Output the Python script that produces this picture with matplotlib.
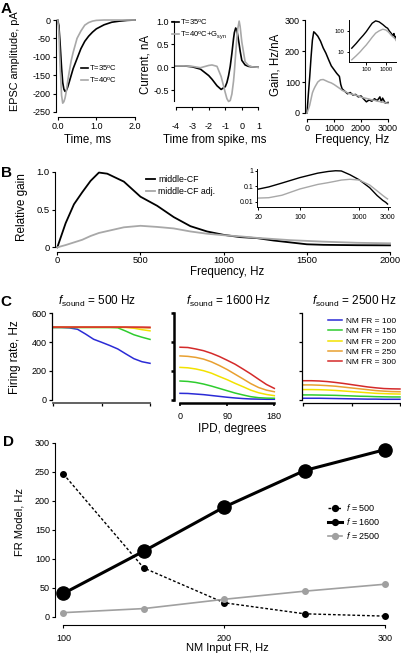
import matplotlib
matplotlib.use('Agg')
import matplotlib.pyplot as plt
from matplotlib.ticker import NullLocator

plt.rcParams['font.family'] = ['Liberation Sans', 'DejaVu Sans']
plt.rcParams['mathtext.fontset'] = 'custom'
plt.rcParams['mathtext.rm'] = 'Liberation Sans'
plt.rcParams['mathtext.it'] = 'Liberation Sans:italic'
plt.rcParams['axes.unicode_minus'] = False

# ---------------- data ----------------
# A1: EPSC waveforms
epsc_t = [0, 0.03, 0.06, 0.1, 0.13, 0.16, 0.19, 0.22, 0.26, 0.3, 0.35, 0.4, 0.5,
          0.6, 0.7, 0.8, 0.9, 1.0, 1.2, 1.4, 1.6, 1.8, 2.0]
epsc_35 = [0, -15, -60, -130, -170, -188, -194, -192, -182, -168, -150, -132, -105,
           -78, -58, -44, -33, -24, -13, -6, -3, -1, 0]
epsc_40 = [0, -30, -120, -205, -226, -222, -212, -195, -165, -140, -110, -88, -50,
           -30, -14, -7, -3, -1, 0, 0, 0, 0, 0]

# A2: spike-triggered current
spk_t = [-4, -3.5, -3, -2.5, -2, -1.8, -1.5, -1.25, -1.0, -0.9, -0.8, -0.7, -0.6,
         -0.5, -0.45, -0.37, -0.3, -0.25, -0.16, -0.1, 0, 0.2, 0.4, 0.6, 1.0]
cur_35 = [0.03, 0.03, 0.01, -0.04, -0.18, -0.26, -0.4, -0.48, -0.42, -0.33, -0.18,
          0.02, 0.3, 0.62, 0.75, 0.85, 0.8, 0.7, 0.5, 0.35, 0.15, 0.05, 0.02, 0.01, 0.0]
cur_40 = [0.03, 0.03, 0.02, -0.01, 0.04, 0.05, 0.02, -0.2, -0.55, -0.68, -0.74,
          -0.72, -0.58, -0.3, -0.1, 0.3, 0.62, 0.82, 1.0, 0.88, 0.55, 0.12, 0.04, 0.01, 0.0]

# A3: gain
gain_f = [0, 50, 100, 150, 200, 250, 300, 400, 500, 600, 700, 800, 900, 1000, 1100,
          1200, 1250, 1300, 1400, 1500, 1600, 1700, 1800, 1900, 2000, 2100, 2200,
          2300, 2400, 2500, 2600, 2700, 2750, 2800, 2900, 3000]
gain_35 = [0, 60, 116, 180, 235, 262, 258, 248, 232, 210, 193, 172, 152, 140, 128,
           118, 92, 78, 70, 62, 66, 58, 60, 52, 55, 45, 36, 42, 38, 46, 40, 52, 36,
           48, 32, 34]
gain_40 = [0, 12, 25, 45, 65, 76, 85, 100, 107, 108, 104, 100, 97, 92, 86, 80, 77,
           73, 70, 65, 62, 60, 58, 55, 51, 49, 47, 45, 42, 41, 38, 37, 36, 35, 33, 31]
gin_f = [18, 30, 48, 70, 100, 150, 200, 300, 450, 700, 1000, 1230, 1500, 1860,
         2300, 2600, 2800, 3100, 3300]
gin_35 = [15, 25, 42, 62, 93, 160, 232, 300, 270, 200, 150, 134, 100, 78, 60, 75,
          45, 55, 40]
gin_40 = [4.2, 6.5, 10, 15, 21.5, 35, 50, 78, 100, 120, 110, 95, 80, 62, 52, 48,
          45, 40, 35]

# B: relative gain
rel_f = [0, 50, 100, 150, 200, 250, 300, 400, 500, 600, 700, 800, 900, 1000, 1100,
         1200, 1300, 1400, 1500, 1600, 1800, 2000]
rel_cf = [0, 0.32, 0.57, 0.73, 0.88, 0.99, 0.975, 0.87, 0.67, 0.55, 0.40, 0.28,
          0.21, 0.165, 0.135, 0.122, 0.09, 0.065, 0.04, 0.033, 0.028, 0.026]
rel_adj = [0, 0.03, 0.065, 0.1, 0.15, 0.19, 0.215, 0.265, 0.285, 0.27, 0.25, 0.21,
           0.18, 0.16, 0.145, 0.125, 0.11, 0.095, 0.085, 0.075, 0.06, 0.053]
rin_f = [20, 30, 50, 100, 200, 300, 400, 500, 700, 1000, 1500, 2000, 2500, 2800, 3000]
rin_cf = [0.065, 0.09, 0.16, 0.36, 0.7, 0.9, 1.0, 0.97, 0.55, 0.26, 0.08, 0.025,
          0.012, 0.009, 0.007]
rin_adj = [0.017, 0.018, 0.026, 0.066, 0.13, 0.17, 0.21, 0.25, 0.28, 0.25, 0.12,
           0.05, 0.025, 0.018, 0.015]

# C: firing rate vs IPD
ipd = [0, 15, 30, 45, 60, 75, 90, 105, 120, 135, 150, 165, 180]
nm_labels = ['NM FR = 100', 'NM FR = 150', 'NM FR = 200', 'NM FR = 250', 'NM FR = 300']
nm_colors = ['#2b2bd6', '#2ecc2e', '#f2e200', '#e8a030', '#d42a2a']
fr_500 = [
    [500, 500, 497, 488, 455, 419, 398, 376, 352, 318, 285, 264, 253],
    [500, 500, 500, 500, 500, 500, 500, 500, 498, 475, 450, 433, 418],
    [501, 501, 501, 501, 501, 501, 501, 501, 501, 500, 495, 485, 477],
    [502, 502, 502, 502, 502, 502, 502, 502, 502, 502, 500, 498, 496],
    [503, 503, 503, 503, 503, 503, 503, 503, 503, 503, 503, 503, 502],
]
fr_1600 = [
    [46, 45, 41, 37, 31, 25, 19, 14, 10, 7, 6, 5, 5],
    [131, 128, 121, 110, 96, 80, 64, 48, 35, 23, 16, 13, 12],
    [225, 222, 214, 202, 185, 162, 140, 115, 92, 68, 50, 38, 30],
    [304, 301, 294, 282, 263, 238, 210, 178, 146, 113, 86, 68, 57],
    [364, 362, 352, 340, 322, 300, 274, 247, 214, 180, 143, 107, 80],
]
fr_2500 = [
    [12, 12, 12, 11, 10, 9, 8, 7, 6, 6, 5, 5, 5],
    [35, 35, 34, 33, 32, 30, 28, 26, 25, 23, 22, 21, 21],
    [72, 72, 71, 69, 66, 62, 58, 54, 50, 46, 44, 42, 41],
    [104, 104, 102, 99, 95, 89, 83, 77, 71, 65, 61, 58, 57],
    [133, 133, 131, 127, 121, 114, 106, 98, 90, 84, 79, 77, 76],
]

# D: modulation vs NM input
nm_fr = [100, 150, 200, 250, 300]
fr_model_500 = [246, 84, 24, 5, 1]
fr_model_1600 = [40, 113, 189, 252, 288]
fr_model_2500 = [7, 14, 30, 44, 56]

# ---------------- figure ----------------
W, H = 401, 657
fig = plt.figure(figsize=(W / 100, H / 100), dpi=100)


def add_ax(x0, y0, x1, y1):
    return fig.add_axes([x0 / W, 1 - y1 / H, (x1 - x0) / W, (y1 - y0) / H])


def style(ax, fs=6.5, lw=0.8):
    for s in ['top', 'right']:
        ax.spines[s].set_visible(False)
    for s in ['left', 'bottom']:
        ax.spines[s].set_linewidth(lw)
    ax.tick_params(labelsize=fs, length=2.5, width=lw, pad=1.2)
    ax.patch.set_alpha(0)


def ftext(x, y, s, **kw):
    return fig.text(x / W, 1 - y / H, s, **kw)


GRAY = '#a8a8a8'

# ---- A1 ----
ax = add_ax(56, 16, 136, 117)
style(ax)
ax.plot(epsc_t, epsc_35, color='k', lw=1.2, label='T=35$^{\\rm o}$C')
ax.plot(epsc_t, epsc_40, color=GRAY, lw=1.2, label='T=40$^{\\rm o}$C')
ax.set_xlim(-0.044, 2.026)
ax.set_ylim(-263.6, 10.9)
ax.set_xticks([0, 1, 2])
ax.set_xticklabels(['0.0', '1.0', '2.0'])
ax.set_yticks([0, -50, -100, -150, -200, -250])
ax.spines['left'].set_bounds(-250, 0)
ax.spines['bottom'].set_bounds(0, 2)
ax.legend(loc='upper left', bbox_to_anchor=(81 / W, 1 - 63 / H),
          bbox_transform=fig.transFigure, frameon=False, fontsize=5.5,
          handlelength=0.9, handletextpad=0.2, labelspacing=0.25,
          borderpad=0, borderaxespad=0)
ftext(15, 61, 'EPSC amplitude, pA', rotation=90, ha='center', va='center', fontsize=7.8)
ftext(87, 140, 'Time, ms', ha='center', va='center', fontsize=8.3)
ftext(6, 9, 'A', ha='center', va='center', fontsize=11, fontweight='bold')

# ---- A2 ----
ax = add_ax(174, 16, 259, 107)
style(ax)
ax.plot(spk_t, cur_35, color='k', lw=1.2, label='T=35$^{\\rm o}$C')
ax.plot(spk_t, cur_40, color=GRAY, lw=1.2, label='T=40$^{\\rm o}$C+G$_{\\rm syn}$')
ax.set_xlim(-4.1, 1.04)
ax.set_ylim(-0.86, 1.11)
ax.set_xticks([-4, -3, -2, -1, 0, 1])
ax.set_yticks([-0.5, 0, 0.5, 1.0])
ax.set_yticklabels(['-0.5', '0.0', '0.5', '1.0'])
ax.tick_params(axis='x', pad=8)
ax.spines['left'].set_bounds(-0.72, 1.0)
ax.spines['bottom'].set_bounds(-4, 1)
ax.legend(loc='upper left', bbox_to_anchor=(172 / W, 1 - 17 / H),
          bbox_transform=fig.transFigure, frameon=False, fontsize=5.5,
          handlelength=0.9, handletextpad=0.2, labelspacing=0.25,
          borderpad=0, borderaxespad=0)
ftext(146, 64, 'Current, nA', rotation=90, ha='center', va='center', fontsize=8.3)
ftext(215, 140, 'Time from spike, ms', ha='center', va='center', fontsize=8.3)

# ---- A3 ----
ax = add_ax(305, 16, 390, 119)
style(ax)
ax.plot(gain_f, gain_35, color='k', lw=1.1)
ax.plot(gain_f, gain_40, color=GRAY, lw=1.1)
ax.set_xlim(-74, 3074)
ax.set_ylim(-19.4, 313)
ax.set_xticks([0, 1000, 2000, 3000])
ax.set_yticks([0, 100, 200, 300])
ax.spines['left'].set_bounds(0, 300)
ax.spines['bottom'].set_bounds(0, 3000)
ftext(276, 65, 'Gain, Hz/nA', rotation=90, ha='center', va='center', fontsize=8.3)
ftext(352, 140, 'Frequency, Hz', ha='center', va='center', fontsize=8.3)

ax = add_ax(349, 20, 396, 62)
style(ax, fs=4.2, lw=0.7)
ax.loglog(gin_f, gin_35, color='k', lw=1.0)
ax.loglog(gin_f, gin_40, color=GRAY, lw=1.0)
ax.set_xlim(13, 3300)
ax.set_ylim(3.3, 330)
ax.set_xticks([100, 1000])
ax.set_xticklabels(['100', '1000'])
ax.set_yticks([10, 100])
ax.set_yticklabels(['10', '100'])
ax.xaxis.set_minor_locator(NullLocator())
ax.yaxis.set_minor_locator(NullLocator())
ax.tick_params(length=1.8, pad=1.5)

# ---- B ----
ax = add_ax(55, 165, 392, 252)
style(ax, fs=6.8)
ax.plot(rel_f, rel_cf, color='k', lw=1.3, label='middle-CF')
ax.plot(rel_f, rel_adj, color=GRAY, lw=1.3, label='middle-CF adj.')
ax.set_xlim(-14, 2012)
ax.set_ylim(-0.062, 1.09)
ax.set_xticks([0, 500, 1000, 1500, 2000])
ax.set_yticks([0, 0.5, 1.0])
ax.set_yticklabels(['0', '0.5', '1.0'])
ax.tick_params(axis='x', pad=0.6)
ax.spines['left'].set_bounds(0, 1)
ax.spines['bottom'].set_bounds(0, 2000)
ax.legend(loc='upper left', bbox_to_anchor=(146 / W, 1 - 175 / H),
          bbox_transform=fig.transFigure, frameon=False, fontsize=6.3,
          handlelength=1.0, handletextpad=0.4, labelspacing=0.35,
          borderpad=0, borderaxespad=0)
ftext(22, 207, 'Relative gain', rotation=90, ha='center', va='center', fontsize=8.5)
ftext(227, 272, 'Frequency, Hz', ha='center', va='center', fontsize=8.3)
ftext(6, 173, 'B', ha='center', va='center', fontsize=11, fontweight='bold')

ax = add_ax(257, 169, 390, 207)
style(ax, fs=5, lw=0.7)
ax.loglog(rin_f, rin_cf, color='k', lw=1.0)
ax.loglog(rin_f, rin_adj, color=GRAY, lw=1.0)
ax.set_xlim(19, 3300)
ax.set_ylim(0.0045, 1.3)
ax.set_xticks([20, 100, 1000, 3000])
ax.set_xticklabels(['20', '100', '1000', '3000'])
ax.set_yticks([0.01, 0.1, 1])
ax.set_yticklabels(['0.01', '0.1', '1'])
ax.xaxis.set_minor_locator(NullLocator())
ax.yaxis.set_minor_locator(NullLocator())
ax.tick_params(length=1.8, pad=1)
ax.tick_params(axis='x', pad=3)

# ---- C ----
c_specs = [
    (fr_500, (52, 152), (-2.4, 183.7), '500', 97),
    (fr_1600, (174, 276), (-11.5, 183.2), '1600', 228),
    (fr_2500, (302, 401), (-2.4, 181.9), '2500', 354),
]
for i, (data, (x0, x1), xl, fs_label, tx) in enumerate(c_specs):
    ax = add_ax(x0, 310, x1, 403)
    if i == 1:
        style(ax, fs=6.5, lw=1.8)
    else:
        style(ax, fs=6.5, lw=0.9)
    for vals, col, lab in zip(data, nm_colors, nm_labels):
        ax.plot(ipd, vals, color=col, lw=1.1, label=lab)
    ax.set_xlim(*xl)
    ax.set_ylim(-20.7, 620.7)
    ax.set_xticks([0, 90, 180])
    ax.set_yticks([0, 200, 400, 600])
    ax.spines['left'].set_bounds(0, 600)
    ax.spines['bottom'].set_bounds(0, 180)
    if i == 0:
        ax.set_xticklabels([])
        ax.spines['bottom'].set_color('#555555')
        ax.spines['bottom'].set_linewidth(1.3)
    elif i == 1:
        ax.set_yticklabels([])
        ax.tick_params(axis='x', pad=4, width=1.2)
    else:
        ax.set_xticklabels([])
        ax.set_yticklabels([])
        ax.legend(loc='upper left', bbox_to_anchor=(328 / W, 1 - 317 / H),
                  bbox_transform=fig.transFigure, frameon=False, fontsize=6,
                  handlelength=1.7, handletextpad=0.4, labelspacing=0.3,
                  borderpad=0, borderaxespad=0)
    ftext(tx, 301, '$f$$_{\\rm sound}$ = ' + fs_label + ' Hz', ha='center',
          va='center', fontsize=8.5)
ftext(15, 357, 'Firing rate, Hz', rotation=90, ha='center', va='center', fontsize=8.5)
ftext(232, 429, 'IPD, degrees', ha='center', va='center', fontsize=8.5)
ftext(6, 302, 'C', ha='center', va='center', fontsize=11, fontweight='bold')

# ---- D ----
ax = add_ax(55, 440, 390, 625)
style(ax, fs=6.5)
ax.plot(nm_fr, fr_model_500, color='k', lw=1.0, ls=(0, (2, 1.5)), marker='o',
        ms=4, clip_on=False, label='$f$ = 500')
ax.plot(nm_fr, fr_model_1600, color='k', lw=2.2, marker='o', ms=9.5,
        clip_on=False, label='$f$ = 1600')
ax.plot(nm_fr, fr_model_2500, color='#a0a0a0', lw=1.2, marker='o', ms=4,
        clip_on=False, label='$f$ = 2500')
ax.set_xlim(94.8, 303.1)
ax.set_ylim(-14.3, 304.6)
ax.set_xticks([100, 200, 300])
ax.set_yticks([0, 50, 100, 150, 200, 250, 300])
ax.tick_params(axis='x', pad=4)
ax.spines['left'].set_bounds(0, 300)
ax.spines['bottom'].set_bounds(100, 300)
leg = ax.legend(loc='upper left', bbox_to_anchor=(328 / W, 1 - 502 / H),
                bbox_transform=fig.transFigure, frameon=False, fontsize=6.5,
                handlelength=1.6, handletextpad=0.4, labelspacing=0.35,
                borderpad=0, borderaxespad=0, markerscale=1.0)
for h in leg.legend_handles:
    h.set_markersize(4.2)
ftext(20, 522, 'FR Model, Hz', rotation=90, ha='center', va='center', fontsize=8)
ftext(227, 648, 'NM Input FR, Hz', ha='center', va='center', fontsize=8)
ftext(8, 442, 'D', ha='center', va='center', fontsize=11, fontweight='bold')

fig.savefig('out.png', dpi=100)
